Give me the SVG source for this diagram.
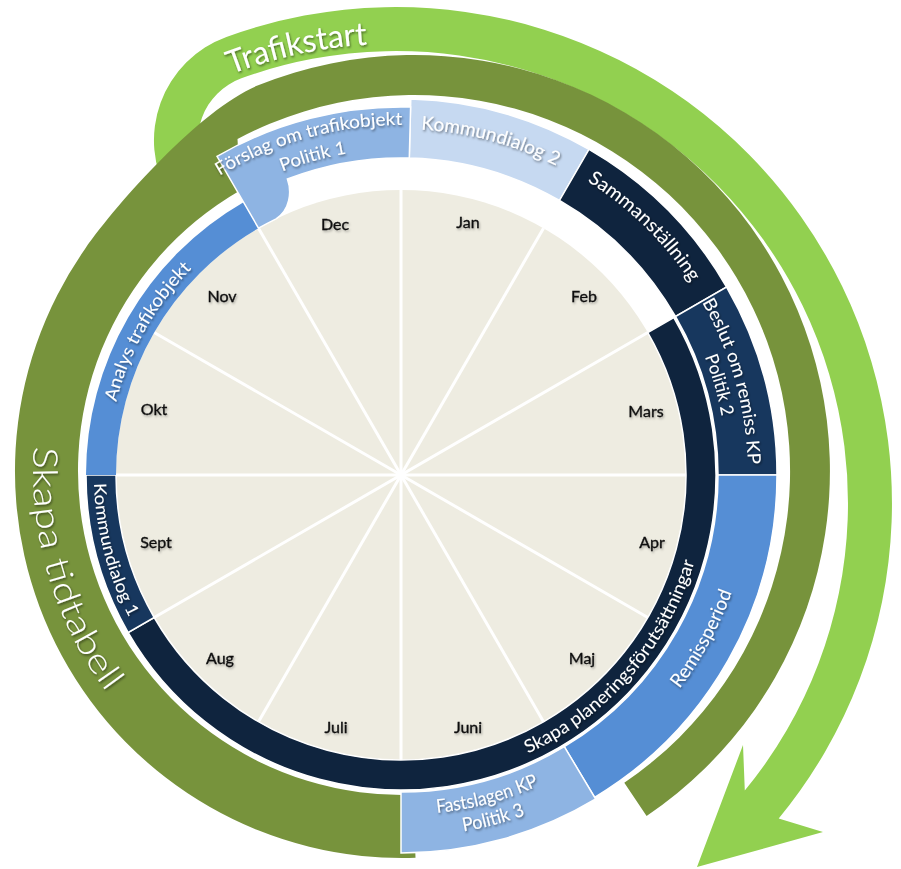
<svg xmlns="http://www.w3.org/2000/svg" width="901" height="869" viewBox="0 0 901 869">
<defs>
  <filter id="ts" x="-10%" y="-40%" width="120%" height="180%"><feDropShadow dx="1" dy="1.5" stdDeviation="1" flood-color="#000" flood-opacity="0.5"/></filter>
  <filter id="ms" x="-10%" y="-40%" width="120%" height="180%"><feDropShadow dx="1" dy="1.5" stdDeviation="0.8" flood-color="#000" flood-opacity="0.3"/></filter>
  <path id="pAnalys" d="M107,477.6 A294,294 0 0 1 251.8,221.7"/>
  <path id="pKd1" d="M94,472.9 A307,307 0 0 0 134.1,626.6"/>
  <path id="pSkapaP" d="M500.6,764.3 A306,306 0 0 0 701.4,533.4"/>
  <path id="pRemiss" d="M633.6,737.9 A351,351 0 0 0 748.1,526.9"/>
  <path id="pFast1" d="M401,815 A340,340 0 0 0 571,769.4"/>
  <path id="pFast2" d="M401,837 A362,362 0 0 0 582,788.5"/>
  <path id="pBes1" d="M699.1,297.3 A347,347 0 0 1 748,470.2"/>
  <path id="pBes2" d="M681,308.1 A326,326 0 0 1 727,470.4"/>
  <path id="pSamm" d="M571.8,171.8 A348,348 0 0 1 700.5,297.9"/>
  <path id="pKd2" d="M401,129 A346,346 0 0 1 574,175.4"/>
  <path id="pFor1" d="M197.8,190.1 A350,350 0 0 1 428.5,126.1"/>
  <path id="pFor2" d="M235.6,194.1 A326,326 0 0 1 398.2,149"/>
  <path id="pTraf" d="M150,115 A459,459 0 0 1 458,48"/>
  <path id="pTid" d="M37.1,416.5 A369,369 0 0 0 125.6,715.5"/>
</defs>
<style>
  .lbl{font-family:Lato,"Open Sans","Liberation Sans",sans-serif;fill:#ffffff;filter:url(#ts)}
  .big{font-weight:300}
  .mon{font-family:Lato,"Open Sans","Liberation Sans",sans-serif;font-size:16px;fill:#111111;stroke:#111111;stroke-width:0.35;text-anchor:middle;filter:url(#ms)}
  .seg{stroke:#ffffff;stroke-width:1.5}
  .div{stroke:#ffffff;stroke-width:3}
</style>
<rect width="901" height="869" fill="#ffffff"/>

<g id="connectors">
  <g id="trafikstart-arrow">
    <path fill="#92D050" d="M168.7,195.3 A110,110 0 0 1 226.4,36.9 A496,496 0 0 1 778.7,818.5 L823,832 L697,867 L743,745 L744.8,790.5 A452,452 0 0 0 241.4,78.3 A66,66 0 0 0 206.8,173.3 Z"/>
    <text class="lbl" font-size="32"><textPath href="#pTraf" startOffset="50%" text-anchor="middle" textLength="140" lengthAdjust="spacingAndGlyphs">Trafikstart</textPath></text>
  </g>
  <g id="skapa-tidtabell-arrow">
    <path fill="#77933C" d="M415.5,857.8 A387,387 0 0 1 85,249 C119.4,199.8 202.6,107.8 258.2,85.3 A416,416 0 0 1 646.6,815.9 L624.3,782.7 A376,376 0 0 0 237.5,139 L240,190.4 A324,324 0 0 0 413.3,794.8 Z"/>
    <text class="lbl big" font-size="34"><textPath href="#pTid" startOffset="50%" text-anchor="middle" textLength="262" lengthAdjust="spacingAndGlyphs">Skapa tidtabell</textPath></text>
  </g>
</g>

<g id="wheel">
  <circle cx="401" cy="475" r="285" fill="#EEECE1"/>
  <line class="div" x1="116" y1="475" x2="686" y2="475"/>
  <line class="div" x1="154.2" y1="332.5" x2="647.8" y2="617.5"/>
  <line class="div" x1="258.5" y1="228.2" x2="543.5" y2="721.8"/>
  <line class="div" x1="401" y1="190" x2="401" y2="760"/>
  <line class="div" x1="543.5" y1="228.2" x2="258.5" y2="721.8"/>
  <line class="div" x1="647.8" y1="332.5" x2="154.2" y2="617.5"/>
</g>

<g id="months">
  <text class="mon" x="468" y="228">Jan</text>
  <text class="mon" x="584" y="302">Feb</text>
  <text class="mon" x="646" y="417">Mars</text>
  <text class="mon" x="652" y="548">Apr</text>
  <text class="mon" x="582" y="664">Maj</text>
  <text class="mon" x="468" y="733">Juni</text>
  <text class="mon" x="336" y="733">Juli</text>
  <text class="mon" x="220" y="664">Aug</text>
  <text class="mon" x="156" y="548">Sept</text>
  <text class="mon" x="154" y="415">Okt</text>
  <text class="mon" x="222" y="302">Nov</text>
  <text class="mon" x="335" y="230">Dec</text>
</g>

<g id="skapa-planeringsforutsattningar">
  <path class="seg" fill="#0F243E" d="M673.8,317.5 A315,315 0 0 1 558.5,747.8 A315,315 0 0 1 128.2,632.5 L154.2,617.5 A285,285 0 0 0 543.5,721.8 A285,285 0 0 0 647.8,332.5 Z"/>
  <text class="lbl" font-size="18"><textPath href="#pSkapaP" startOffset="50%" text-anchor="middle" textLength="262" lengthAdjust="spacingAndGlyphs">Skapa planeringsförutsättningar</textPath></text>
</g>
<g id="kommundialog-1">
  <path class="seg" fill="#17375E" d="M128.2,632.5 A315,315 0 0 1 86,475 L116,475 A285,285 0 0 0 154.2,617.5 Z"/>
  <text class="lbl" font-size="17"><textPath href="#pKd1" startOffset="50%" text-anchor="middle" textLength="140" lengthAdjust="spacingAndGlyphs">Kommundialog 1</textPath></text>
</g>
<g id="analys-trafikobjekt">
  <path fill="#558ED5" d="M86,475 A315,315 0 0 1 243.5,202.2 L258.5,228.2 A285,285 0 0 0 116,475 Z"/>
  <text class="lbl" font-size="18"><textPath href="#pAnalys" startOffset="50%" text-anchor="middle" textLength="155" lengthAdjust="spacingAndGlyphs">Analys trafikobjekt</textPath></text>
</g>
<g id="kommundialog-2">
  <path class="seg" fill="#C6D9F1" d="M410.8,99.1 A376,376 0 0 1 589,149.4 L559.5,200.5 A317,317 0 0 0 409.3,158.1 Z"/>
  <text class="lbl" font-size="19"><textPath href="#pKd2" startOffset="50%" text-anchor="middle" textLength="141" lengthAdjust="spacingAndGlyphs">Kommundialog 2</textPath></text>
</g>
<g id="forslag-om-trafikobjekt">
  <path class="seg" fill="#8EB4E3" d="M217,156.3 A368,368 0 0 1 410.6,107.1 L409.3,158.1 A317,317 0 0 0 287.4,179 C292,192 290,210 276.1,218.8 A285,285 0 0 0 258.5,228.2 Z"/>
  <text class="lbl" font-size="18"><textPath href="#pFor1" startOffset="50%" text-anchor="middle" textLength="192" lengthAdjust="spacingAndGlyphs">Förslag om trafikobjekt</textPath></text>
  <text class="lbl" font-size="18"><textPath href="#pFor2" startOffset="50%" text-anchor="middle" textLength="67" lengthAdjust="spacingAndGlyphs">Politik 1</textPath></text>
</g>
<g id="sammanstallning">
  <path class="seg" fill="#0F243E" d="M589,149.4 A376,376 0 0 1 726.6,287 L675.5,316.5 A317,317 0 0 0 559.5,200.5 Z"/>
  <text class="lbl" font-size="19"><textPath href="#pSamm" startOffset="50%" text-anchor="middle" textLength="146" lengthAdjust="spacingAndGlyphs">Sammanställning</textPath></text>
</g>
<g id="beslut-om-remiss">
  <path class="seg" fill="#17375E" d="M726.6,287 A376,376 0 0 1 777,475 L718,475 A317,317 0 0 0 675.5,316.5 Z"/>
  <text class="lbl" font-size="18"><textPath href="#pBes1" startOffset="50%" text-anchor="middle" textLength="170" lengthAdjust="spacingAndGlyphs">Beslut om remiss KP</textPath></text>
  <text class="lbl" font-size="18"><textPath href="#pBes2" startOffset="50%" text-anchor="middle" textLength="62" lengthAdjust="spacingAndGlyphs">Politik 2</textPath></text>
</g>
<g id="remissperiod">
  <path class="seg" fill="#558ED5" d="M777,475 A376,376 0 0 1 594.6,797.3 L564.3,746.7 A317,317 0 0 0 718,475 Z"/>
  <text class="lbl" font-size="19"><textPath href="#pRemiss" startOffset="50%" text-anchor="middle" textLength="110" lengthAdjust="spacingAndGlyphs">Remissperiod</textPath></text>
</g>
<g id="fastslagen-kp">
  <path class="seg" fill="#8EB4E3" d="M595.7,799 A378,378 0 0 1 401,853 L401,792 A317,317 0 0 0 564.3,746.7 Z"/>
  <text class="lbl" font-size="19"><textPath href="#pFast1" startOffset="50%" text-anchor="middle" textLength="106" lengthAdjust="spacingAndGlyphs">Fastslagen KP</textPath></text>
  <text class="lbl" font-size="19"><textPath href="#pFast2" startOffset="50%" text-anchor="middle" textLength="64" lengthAdjust="spacingAndGlyphs">Politik 3</textPath></text>
</g>
</svg>
